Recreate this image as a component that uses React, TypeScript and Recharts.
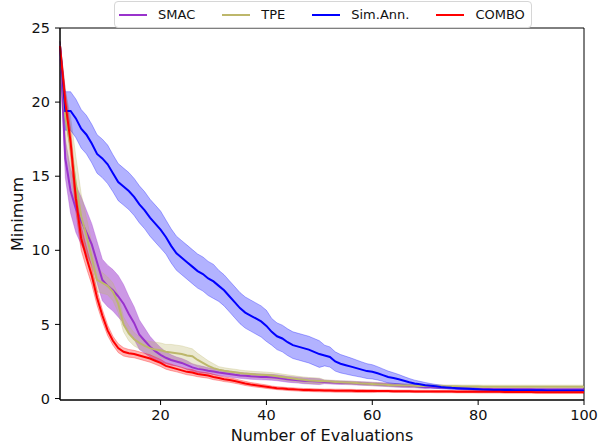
import { ComposedChart, Line, Area, XAxis, YAxis, Legend, ReferenceArea } from 'recharts'

const FONT = '"DejaVu Sans", sans-serif'

// mean best value found after each evaluation, with the spread drawn as a band
const comboMean = [
  23.8, 20.0, 17.3, 13.5, 10.8, 9.5, 8.3, 6.8, 5.6, 4.6,
  3.9, 3.4, 3.15, 3.05, 3.0, 2.9, 2.8, 2.7, 2.55, 2.4,
  2.2, 2.1, 2.0, 1.9, 1.8, 1.75, 1.65, 1.6, 1.55, 1.45,
  1.38, 1.3, 1.25, 1.18, 1.1, 1.02, 0.95, 0.9, 0.85, 0.8,
  0.74, 0.7, 0.67, 0.64, 0.62, 0.6, 0.58, 0.57, 0.56, 0.55,
  0.54, 0.54, 0.53, 0.53, 0.52, 0.52, 0.51, 0.51, 0.5, 0.5,
  0.5, 0.5, 0.5, 0.49, 0.49, 0.49, 0.49, 0.48, 0.48, 0.48,
  0.48, 0.47, 0.47, 0.47, 0.47, 0.46, 0.46, 0.46, 0.46, 0.45,
  0.45, 0.45, 0.45, 0.45, 0.44, 0.44, 0.44, 0.44, 0.44, 0.44,
  0.43, 0.43, 0.43, 0.43, 0.43, 0.43, 0.43, 0.43, 0.43, 0.43,
]
const comboSpread = [
  0.3, 0.8, 0.9, 0.9, 0.8, 0.7, 0.6, 0.5, 0.4, 0.35,
  0.3, 0.3, 0.28, 0.26, 0.25, 0.25, 0.25, 0.25, 0.24, 0.24,
  0.22, 0.22, 0.2, 0.2, 0.2, 0.2, 0.18, 0.18, 0.18, 0.18,
  0.16, 0.16, 0.15, 0.15, 0.14, 0.14, 0.13, 0.13, 0.12, 0.12,
  0.1, 0.1, 0.1, 0.1, 0.1, 0.1, 0.1, 0.1, 0.1, 0.1,
  0.1, 0.1, 0.1, 0.1, 0.1, 0.1, 0.1, 0.1, 0.1, 0.1,
  0.08, 0.08, 0.08, 0.08, 0.08, 0.08, 0.08, 0.08, 0.08, 0.08,
  0.08, 0.08, 0.08, 0.08, 0.08, 0.08, 0.08, 0.08, 0.08, 0.08,
  0.08, 0.08, 0.08, 0.08, 0.08, 0.08, 0.08, 0.08, 0.08, 0.08,
  0.08, 0.08, 0.08, 0.08, 0.08, 0.08, 0.08, 0.08, 0.08, 0.08,
]

const smacMean = [
  23.8, 16.2, 14.0, 12.8, 12.0, 11.2, 10.4, 9.2, 8.0, 7.6,
  7.3, 6.9, 6.4, 5.7, 5.1, 4.3, 3.9, 3.5, 3.2, 2.95,
  2.75, 2.6, 2.5, 2.4, 2.25, 2.1, 2.0, 1.95, 1.88, 1.82,
  1.75, 1.7, 1.65, 1.6, 1.56, 1.53, 1.5, 1.48, 1.46, 1.45,
  1.43, 1.4, 1.35, 1.3, 1.27, 1.24, 1.2, 1.18, 1.16, 1.14,
  1.12, 1.1, 1.08, 1.07, 1.06, 1.05, 1.03, 1.01, 1.0, 0.98,
  0.96, 0.94, 0.92, 0.9, 0.88, 0.86, 0.85, 0.84, 0.82, 0.8,
  0.78, 0.76, 0.75, 0.74, 0.72, 0.7, 0.68, 0.67, 0.66, 0.65,
  0.64, 0.64, 0.63, 0.63, 0.63, 0.62, 0.62, 0.62, 0.62, 0.62,
  0.61, 0.61, 0.61, 0.61, 0.61, 0.61, 0.61, 0.61, 0.61, 0.61,
]
const smacSpread = [
  0.3, 1.3, 1.5, 1.6, 1.6, 1.5, 1.4, 1.4, 1.4, 1.4,
  1.4, 1.4, 1.3, 1.2, 1.1, 1.0, 0.85, 0.7, 0.6, 0.5,
  0.4, 0.35, 0.3, 0.3, 0.3, 0.25, 0.25, 0.22, 0.2, 0.2,
  0.2, 0.2, 0.2, 0.2, 0.2, 0.2, 0.2, 0.2, 0.2, 0.2,
  0.2, 0.2, 0.2, 0.2, 0.2, 0.2, 0.2, 0.2, 0.2, 0.2,
  0.12, 0.12, 0.12, 0.12, 0.12, 0.12, 0.12, 0.12, 0.12, 0.12,
  0.12, 0.12, 0.12, 0.12, 0.12, 0.12, 0.12, 0.12, 0.12, 0.12,
  0.08, 0.08, 0.08, 0.08, 0.08, 0.08, 0.08, 0.08, 0.08, 0.08,
  0.08, 0.08, 0.08, 0.08, 0.08, 0.08, 0.08, 0.08, 0.08, 0.08,
  0.08, 0.08, 0.08, 0.08, 0.08, 0.08, 0.08, 0.08, 0.08, 0.08,
]

const tpeMean = [
  23.8, 19.0, 17.0, 14.5, 12.3, 11.0, 9.5, 8.0, 7.8, 7.6,
  7.2, 6.4, 5.0, 4.4, 4.0, 3.75, 3.55, 3.4, 3.3, 3.25,
  3.15, 3.1, 3.05, 3.0, 2.9, 2.85, 2.6, 2.4, 2.2, 2.05,
  1.95, 1.88, 1.82, 1.78, 1.72, 1.68, 1.65, 1.62, 1.6, 1.58,
  1.55, 1.5, 1.45, 1.4, 1.35, 1.3, 1.26, 1.22, 1.2, 1.18,
  1.16, 1.14, 1.12, 1.1, 1.08, 1.06, 1.04, 1.02, 1.0, 0.98,
  0.96, 0.94, 0.92, 0.9, 0.89, 0.88, 0.87, 0.86, 0.85, 0.84,
  0.84, 0.83, 0.83, 0.82, 0.82, 0.82, 0.81, 0.81, 0.81, 0.81,
  0.8, 0.8, 0.8, 0.8, 0.8, 0.8, 0.8, 0.8, 0.8, 0.8,
  0.8, 0.8, 0.8, 0.8, 0.8, 0.8, 0.8, 0.8, 0.8, 0.8,
]
const tpeSpread = [
  0.3, 1.8, 2.0, 1.8, 1.5, 1.2, 1.0, 0.8, 0.7, 0.6,
  0.6, 0.6, 0.5, 0.5, 0.45, 0.4, 0.4, 0.45, 0.5, 0.5,
  0.5, 0.55, 0.55, 0.55, 0.55, 0.5, 0.45, 0.4, 0.35, 0.3,
  0.2, 0.2, 0.2, 0.2, 0.2, 0.2, 0.2, 0.2, 0.2, 0.2,
  0.2, 0.2, 0.2, 0.2, 0.2, 0.2, 0.2, 0.2, 0.2, 0.2,
  0.1, 0.1, 0.1, 0.1, 0.1, 0.1, 0.1, 0.1, 0.1, 0.1,
  0.1, 0.1, 0.1, 0.1, 0.1, 0.1, 0.1, 0.1, 0.1, 0.1,
  0.1, 0.1, 0.1, 0.1, 0.1, 0.1, 0.1, 0.1, 0.1, 0.1,
  0.1, 0.1, 0.1, 0.1, 0.1, 0.1, 0.1, 0.1, 0.1, 0.1,
  0.1, 0.1, 0.1, 0.1, 0.1, 0.1, 0.1, 0.1, 0.1, 0.1,
]

const simAnnMean = [
  23.8, 19.4, 19.4, 18.9, 18.2, 17.8, 17.2, 16.5, 16.2, 15.8,
  15.2, 14.6, 14.3, 14.0, 13.6, 13.1, 12.7, 12.2, 11.8, 11.4,
  10.9, 10.3, 9.8, 9.5, 9.2, 8.9, 8.6, 8.4, 8.1, 7.9,
  7.6, 7.3, 6.9, 6.5, 6.1, 5.8, 5.6, 5.4, 5.2, 4.9,
  4.5, 4.2, 4.05, 3.8, 3.6, 3.5, 3.4, 3.3, 3.15, 3.0,
  2.9, 2.8, 2.5, 2.35, 2.25, 2.15, 2.05, 1.95, 1.85, 1.8,
  1.7, 1.58, 1.45, 1.38, 1.3, 1.2, 1.1, 1.02, 0.96, 0.9,
  0.86, 0.82, 0.78, 0.75, 0.72, 0.7, 0.68, 0.66, 0.64, 0.62,
  0.6, 0.59, 0.58, 0.58, 0.57, 0.57, 0.56, 0.56, 0.55, 0.55,
  0.55, 0.55, 0.54, 0.54, 0.54, 0.54, 0.54, 0.54, 0.54, 0.54,
]
const simAnnSpread = [
  0.3, 1.3, 1.3, 1.3, 1.3, 1.3, 1.3, 1.3, 1.3, 1.3,
  1.25, 1.25, 1.25, 1.25, 1.25, 1.25, 1.25, 1.25, 1.25, 1.25,
  1.15, 1.15, 1.15, 1.15, 1.15, 1.15, 1.15, 1.15, 1.15, 1.15,
  1.05, 1.05, 1.05, 1.05, 1.05, 1.05, 1.05, 1.05, 1.05, 1.05,
  0.9, 0.9, 0.9, 0.9, 0.9, 0.9, 0.9, 0.9, 0.9, 0.9,
  0.7, 0.68, 0.65, 0.62, 0.6, 0.58, 0.55, 0.52, 0.5, 0.48,
  0.45, 0.42, 0.4, 0.36, 0.32, 0.28, 0.25, 0.22, 0.2, 0.18,
  0.15, 0.13, 0.12, 0.1, 0.1, 0.09, 0.09, 0.08, 0.08, 0.08,
  0.07, 0.07, 0.07, 0.07, 0.07, 0.07, 0.07, 0.07, 0.07, 0.07,
  0.07, 0.07, 0.07, 0.07, 0.07, 0.07, 0.07, 0.07, 0.07, 0.07,
]

const evaluations = comboMean.map((_, i) => i + 1)
const xTicks = [20, 40, 60, 80, 100]
const yTicks = [0, 5, 10, 15, 20, 25]

const series = [
  { key: 'smac', name: 'SMAC', color: '#9932cc', bandOpacity: 0.5, mean: smacMean, spread: smacSpread },
  { key: 'tpe', name: 'TPE', color: '#bdb76b', bandOpacity: 0.3, mean: tpeMean, spread: tpeSpread },
  { key: 'sim', name: 'Sim.Ann.', color: '#0000ff', bandOpacity: 0.3, mean: simAnnMean, spread: simAnnSpread },
  { key: 'combo', name: 'COMBO', color: '#ff0000', bandOpacity: 0.3, mean: comboMean, spread: comboSpread },
]

const rows = evaluations.map((x, i) => {
  const row: Record<string, number | number[]> = { x }
  series.forEach(s => {
    row[s.key] = s.mean[i]
    row[s.key + 'Band'] = [s.mean[i] - s.spread[i], s.mean[i] + s.spread[i]]
  })
  return row
})

function LegendBox() {
  return (
    <div
      style={{
        display: 'flex',
        alignItems: 'center',
        height: 25,
        padding: '0 6px 0 4px',
        border: '1px solid #d6d6d6',
        borderRadius: 4,
        background: 'rgba(255,255,255,0.85)',
        fontFamily: FONT,
        fontSize: 13,
        color: '#111',
      }}
    >
      {series.map((s, i) => (
        <div key={s.key} style={{ display: 'flex', alignItems: 'center', marginRight: i < series.length - 1 ? 27 : 0 }}>
          <span style={{ display: 'inline-block', width: 28, height: 2, background: s.color, marginRight: 11 }} />
          <span>{s.name}</span>
        </div>
      ))}
    </div>
  )
}

export default function App() {
  const tick = { fontSize: 14.5, fill: '#111', fontFamily: FONT }
  return (
    <div style={{ position: 'absolute', left: 0, top: 0, width: 599, height: 446, background: '#fff' }}>
      <ComposedChart width={599} height={446} data={rows} margin={{ top: 1, right: 15, bottom: 0, left: 0 }}>
        <XAxis
          dataKey="x"
          type="number"
          domain={[1, 100]}
          ticks={xTicks}
          tick={tick}
          tickSize={5}
          tickMargin={5}
          height={46}
          stroke="#000"
          label={{ value: 'Number of Evaluations', position: 'insideBottom', offset: 5, fontSize: 16, fill: '#111', fontFamily: FONT }}
        />
        <YAxis
          type="number"
          domain={[-0.1, 25]}
          ticks={yTicks}
          tick={tick}
          tickSize={5}
          tickMargin={5}
          width={60}
          stroke="#000"
          allowDataOverflow
          label={{ value: 'Minimum', angle: -90, position: 'insideLeft', offset: 17, fontSize: 16, fill: '#111', fontFamily: FONT, style: { textAnchor: 'middle' } }}
        />
        <Legend verticalAlign="top" content={<LegendBox />} wrapperStyle={{ left: 114, top: 1, width: 'auto' }} />
        {series.flatMap(s => [
          <Area
            key={s.key + 'Band'}
            dataKey={s.key + 'Band'}
            type="linear"
            stroke={s.color}
            strokeOpacity={0.3}
            strokeWidth={1}
            fill={s.color}
            fillOpacity={s.bandOpacity}
            dot={false}
            activeDot={false}
            legendType="none"
            isAnimationActive={false}
          />,
          <Line
            key={s.key}
            dataKey={s.key}
            name={s.name}
            type="linear"
            stroke={s.color}
            strokeWidth={2}
            dot={false}
            activeDot={false}
            isAnimationActive={false}
          />,
        ])}
        <ReferenceArea x1={1} x2={100} y1={-0.1} y2={25} fill="none" stroke="#000" strokeWidth={1} ifOverflow="visible" />
      </ComposedChart>
    </div>
  )
}
